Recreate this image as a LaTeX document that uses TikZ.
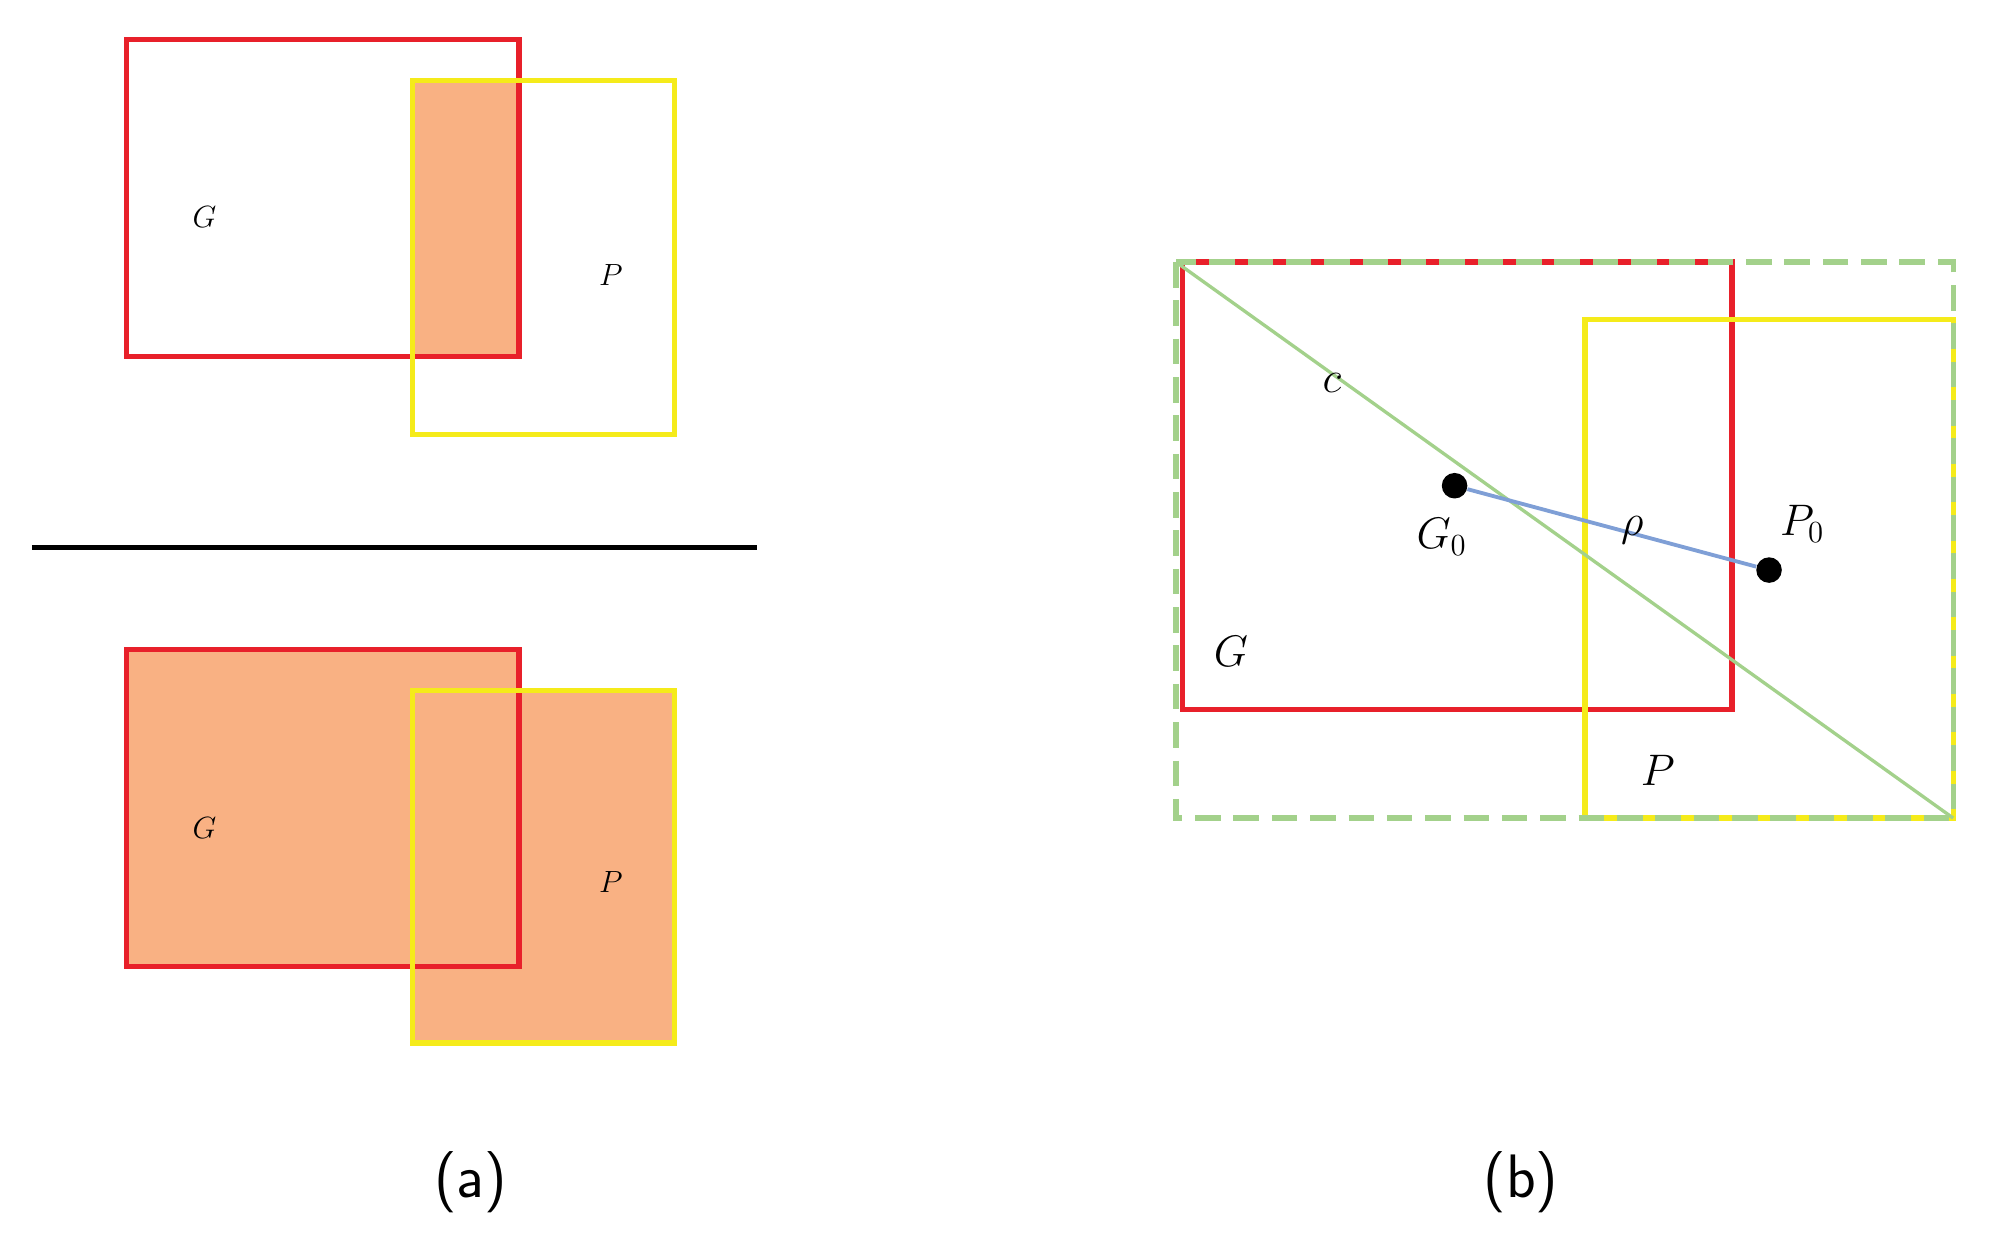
\documentclass[tikz,border=0pt]{standalone}
\begin{document}
\definecolor{rd}{HTML}{E8202A}
\definecolor{yl}{HTML}{F5EB1A}
\definecolor{gr}{HTML}{A3D18B}
\definecolor{og}{HTML}{F9B183}
\definecolor{bl}{HTML}{7F9FD6}
\begin{tikzpicture}[x=0.5pt,y=-0.5pt,
  rbox/.style={draw=rd,line width=2pt},
  ybox/.style={draw=yl,line width=2pt},
  lab/.style={inner sep=0pt,font=\large},
  labb/.style={inner sep=0pt,font=\LARGE},
  captxt/.style={font=\sffamily\fontsize{24}{28}\selectfont}]
\useasboundingbox (0,0) rectangle (1560,978);
% (a) top
\fill[og] (323,63) rectangle (406,279);
\draw[rbox] (99,31) rectangle (406,279);
\draw[ybox] (323,63) rectangle (528,340);
\node[lab] (ga) at (160,170) {$G$};
\node[lab] (pa) at (478,215) {$P$};
\coordinate (l1) at (25,428); \coordinate (l2) at (592,428);
\draw[line width=2pt] (l1) -- (l2);
% (a) bottom
\fill[og] (99,508) rectangle (406,756);
\fill[og] (323,540) rectangle (528,816);
\draw[rbox] (99,508) rectangle (406,756);
\draw[ybox] (323,540) rectangle (528,816);
\node[lab] (gb) at (160,648) {$G$};
\node[lab] (pb) at (478,690) {$P$};
\node[captxt] (ca) at (368,925) {(a)};
% (b)
\draw[rbox] (925,205) rectangle (1355,555);
\draw[ybox] (1240,250) rectangle (1528,640);
\draw[gr,line width=2pt,dash pattern=on 10pt off 5pt] (920,205) rectangle (1528,640);
\coordinate (d1) at (920,205); \coordinate (d2) at (1528,640);
\draw[gr,line width=1.3pt] (d1) -- (d2);
\node[fill=black,circle,inner sep=0pt,minimum size=10pt] (g0) at (1138,380) {};
\node[fill=black,circle,inner sep=0pt,minimum size=10pt] (p0) at (1384,446) {};
\draw[bl,line width=1.5pt] (g0) -- (p0);
\node[labb] (c) at (1042,300) {$c$};
\node[labb] (G0) at (1128,420) {$G_0$};
\node[labb] (rho) at (1277,415) {$\rho$};
\node[labb] (P0) at (1410,410) {$P_0$};
\node[labb] (G) at (963,510) {$G$};
\node[labb] (P) at (1297,603) {$P$};
\node[captxt] (cb) at (1190,925) {(b)};
\end{tikzpicture}
\end{document}
